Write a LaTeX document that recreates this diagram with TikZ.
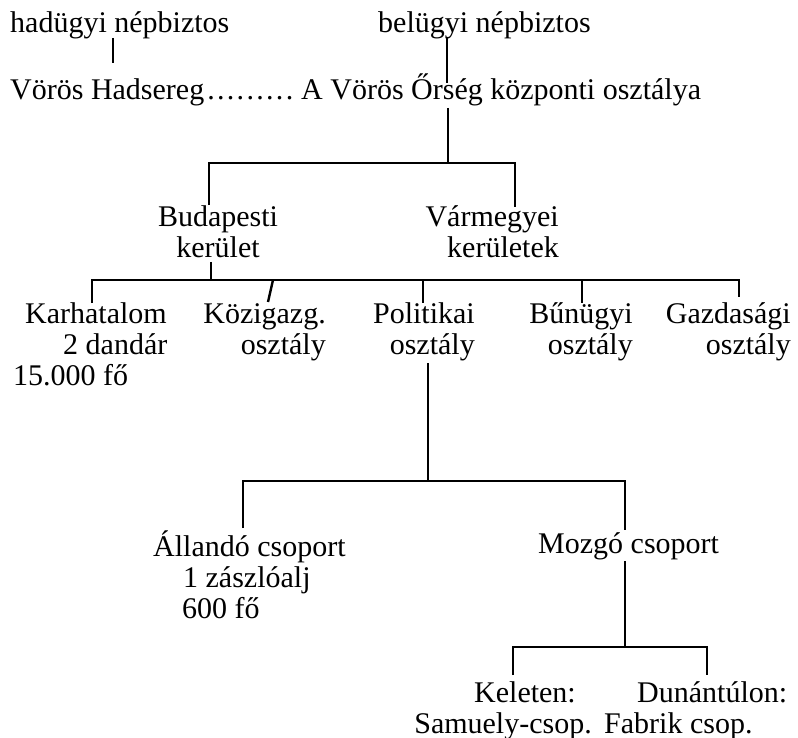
\documentclass[tikz,border=0pt]{standalone}
\usepackage{fontspec}
\setmainfont{Liberation Serif}
\begin{document}
\begin{tikzpicture}[x=1pt,y=-1pt,
  lbl/.style={inner sep=0pt, font=\fontsize{30}{31}\selectfont},
  ln/.style={line width=2.4pt, line join=miter, line cap=butt}]
\useasboundingbox[fill=white] (0,0) rectangle (798,738);
% --- text nodes (multi-line nodes: base = last line) ---
\node[lbl, anchor=base west] (had) at (10,33) {hadügyi népbiztos};
\node[lbl, anchor=base west] (bel) at (378,33) {belügyi népbiztos};
\node[lbl, anchor=base west] (vh) at (10,100) {Vörös Hadsereg\hspace{3pt}\makebox[86pt][s]{.\hfill.\hfill.\hfill.\hfill.\hfill.\hfill.\hfill.\hfill.}};
\node[lbl, anchor=base west] (vo) at (301,100) {A Vörös Őrség központi osztálya};
\node[lbl, anchor=base, align=center] (bud) at (218,258) {Budapesti\\kerület};
\node[lbl, anchor=base east, align=right] (var) at (559,258) {Vármegyei\\kerületek};
\node[lbl, anchor=base west, align=left] (kar) at (13,385) {\hspace*{12pt}Karhatalom\\\hspace*{50pt}2 dandár\\15.000 fő};
\node[lbl, anchor=base east, align=right] (koz) at (326,354) {Közigazg.\\osztály};
\node[lbl, anchor=base east, align=right] (pol) at (475,354) {Politikai\\osztály};
\node[lbl, anchor=base east, align=right] (bun) at (633,354) {Bűnügyi\\osztály};
\node[lbl, anchor=base east, align=right] (gaz) at (791,354) {Gazdasági\\osztály};
\node[lbl, anchor=base west, align=left] (all) at (153,618) {Állandó csoport\\\hspace*{30pt}1 zászlóalj\\\hspace*{29pt}600 fő};
\node[lbl, anchor=base west] (moz) at (538,553) {Mozgó csoport};
\node[lbl, anchor=base east, align=right] (kel) at (592,733) {Keleten:\hspace*{16pt}\\Samuely-csop.};
\node[lbl, anchor=base west, align=left] (dun) at (604,733) {\hspace*{33pt}Dunántúlon:\\Fabrik csop.};
% --- junction coordinates ---
\coordinate (hadA) at (113,38);  \coordinate (hadB) at (113,63);
\coordinate (belA) at (447,38);  \coordinate (belB) at (447,83);
\coordinate (voA) at (448,108);  \coordinate (voB) at (448,163);
\coordinate (budT) at (209,205); \coordinate (budC) at (209,163);
\coordinate (varC) at (515,163); \coordinate (varT) at (515,207);
\coordinate (budA) at (211,262); \coordinate (budB) at (211,280);
\coordinate (karT) at (92,303);  \coordinate (karC) at (92,280);
\coordinate (gazC) at (739,280); \coordinate (gazT) at (739,297);
\coordinate (kozC) at (273,280); \coordinate (kozT) at (268,302);
\coordinate (polC) at (423,280); \coordinate (polT) at (423,303);
\coordinate (bunC) at (582,280); \coordinate (bunT) at (582,303);
\coordinate (polA) at (428,363); \coordinate (polB) at (428,481);
\coordinate (allT) at (243,528); \coordinate (allC) at (243,481);
\coordinate (mozC) at (625,481); \coordinate (mozT) at (625,530);
\coordinate (mozA) at (625,561); \coordinate (mozB) at (625,647);
\coordinate (kelT) at (513,675); \coordinate (kelC) at (513,647);
\coordinate (dunC) at (707,647); \coordinate (dunT) at (707,675);
% --- connectors ---
\draw[ln] (hadA) -- (hadB);
\draw[ln] (belA) -- (belB);
\draw[ln] (voA) -- (voB);
\draw[ln] (budT) -- (budC) -- (varC) -- (varT);
\draw[ln] (budA) -- (budB);
\draw[ln] (karT) -- (karC) -- (gazC) -- (gazT);
\draw[ln] (kozC) -- (kozT);
\draw[ln] (polC) -- (polT);
\draw[ln] (bunC) -- (bunT);
\draw[ln] (polA) -- (polB);
\draw[ln] (allT) -- (allC) -- (mozC) -- (mozT);
\draw[ln] (mozA) -- (mozB);
\draw[ln] (kelT) -- (kelC) -- (dunC) -- (dunT);
\end{tikzpicture}
\end{document}
